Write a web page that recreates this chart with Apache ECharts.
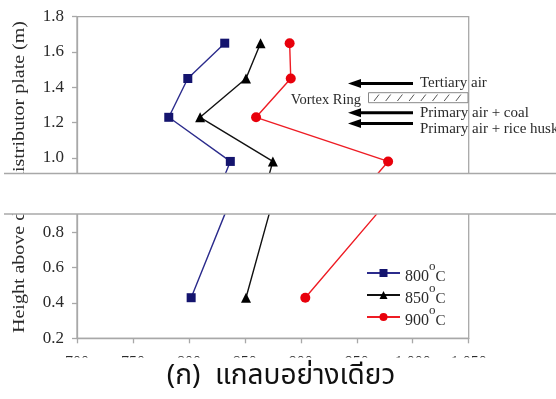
<!DOCTYPE html>
<html>
<head>
<meta charset="utf-8">
<script src="https://cdn.jsdelivr.net/npm/echarts@6/dist/echarts.min.js"></script>
<style>
  html, body { margin: 0; padding: 0; background: #fff; }
  #chart { width: 556px; height: 399px; }
</style>
</head>
<body>
<div id="chart"></div>
<script>
// Bed temperature profile against height (rice husk only)
const heights = [1.65, 1.45, 1.23, 0.98, 0.43];
const temp800 = [832, 799, 782, 837, 802];
const temp850 = [864, 851, 810, 875, 851];
const temp900 = [890, 891, 860, 978, 904];
const seriesNames = ['800', '850', '900'];
const xTicks = [700, 750, 800, 850, 900, 950, 1000, 1050];

const SERIF = '"Liberation Serif", "Times New Roman", serif';
const FRAME = '#a8a8a8';
const TXT = '#2a2a2a';

const styles = [
  { color: '#2b2b8c', symbol: 'rect', symbolSize: 9, markerColor: '#14146e' },
  { color: '#111111', symbol: 'triangle', symbolSize: 10, markerColor: '#000000' },
  { color: '#ee1c24', symbol: 'circle', symbolSize: 10, markerColor: '#e8000b' }
];
const values = [temp800, temp850, temp900];

function pairs(arr) {
  return arr.map((t, i) => [t, heights[i]]);
}

const series = [];
[0, 1].forEach(g => {
  values.forEach((vals, k) => {
    series.push({
      name: seriesNames[k],
      type: 'line',
      xAxisIndex: g,
      yAxisIndex: g,
      data: pairs(vals),
      clip: true,
      symbol: styles[k].symbol,
      symbolSize: styles[k].symbolSize,
      lineStyle: { color: styles[k].color, width: 1.4 },
      itemStyle: { color: styles[k].markerColor },
      emphasis: { disabled: true },
      animation: false
    });
  });
});

const xMin = xTicks[0], xMax = xTicks[xTicks.length - 1];

function xAxis(gridIndex, visible) {
  return {
    type: 'value', gridIndex, min: xMin, max: xMax, interval: 50,
    axisLine: { show: visible, onZero: false, lineStyle: { color: FRAME, width: 1.3 } },
    axisTick: { show: visible, length: 5, lineStyle: { color: FRAME, width: 1.3 } },
    axisLabel: { show: visible, margin: 16, color: TXT, fontFamily: SERIF, fontSize: 16 },
    splitLine: { show: false }
  };
}
function yAxis(gridIndex, min, max) {
  return {
    type: 'value', gridIndex, min, max, interval: 0.2,
    axisLine: { show: true, onZero: false, lineStyle: { color: FRAME, width: 1.3 } },
    axisTick: { show: true, length: 5, lineStyle: { color: FRAME, width: 1.3 } },
    axisLabel: { margin: 13, color: TXT, fontFamily: SERIF, fontSize: 17,
                 formatter: v => v.toFixed(1) },
    splitLine: { show: false }
  };
}

// hatched strip for the vortex ring
const hatch = [];
for (let x = 374; x < 466; x += 11.7) {
  hatch.push({ type: 'line', shape: { x1: x, y1: 101, x2: x + 5, y2: 94.5 },
               style: { stroke: '#555', lineWidth: 1 } });
}

function arrow(y, x0, x1) {
  return {
    type: 'group', children: [
      { type: 'line', shape: { x1: x0 + 10, y1: y, x2: x1, y2: y },
        style: { stroke: '#000', lineWidth: 3 } },
      { type: 'polygon', shape: { points: [[x0, y], [x0 + 13, y - 4.5], [x0 + 13, y + 4.5]] },
        style: { fill: '#000' } }
    ]
  };
}
function label(text, x, y, size, align) {
  return { type: 'text', x, y, style: { text, fill: TXT, font: size + 'px ' + SERIF,
           textAlign: align || 'left', textVerticalAlign: 'middle' } };
}

// degree label: number, raised small "o", then C (padding shifts each token's text)
const legendRich = {
  n: { fontFamily: SERIF, fontSize: 16, lineHeight: 14, color: TXT, padding: [8, 0, 0, 0] },
  c: { fontFamily: SERIF, fontSize: 15, lineHeight: 14, color: TXT, padding: [8, 0, 0, 0] },
  s: { fontFamily: SERIF, fontSize: 13, lineHeight: 10, color: TXT, padding: [0, 0, 12, 0] }
};

const option = {
  backgroundColor: '#fff',
  animation: false,
  grid: [
    { left: 77, top: 16.7, width: 391.7, height: 176.5, show: true, borderColor: FRAME, borderWidth: 1.3 },
    { left: 77, top: 197.1, width: 391.7, height: 141.2, show: true, borderColor: FRAME, borderWidth: 1.3 }
  ],
  xAxis: [xAxis(0, false), xAxis(1, true)],
  yAxis: [yAxis(0, 0.8, 1.8), yAxis(1, 0.2, 1.0)],
  legend: {
    orient: 'vertical', left: 361, top: 255.5, itemWidth: 33, itemHeight: 10, itemGap: -3,
    data: seriesNames,
    formatter: n => '{n|' + n + '}{s|o}{c|C}',
    textStyle: { rich: legendRich },
    selectedMode: false
  },
  series,
  graphic: [
    // white break across the height axis
    { type: 'rect', z: 100, shape: { x: 4, y: 173.5, width: 552, height: 40.5 }, style: { fill: '#fff' } },
    { type: 'line', z: 101, shape: { x1: 4, y1: 173.5, x2: 556, y2: 173.5 }, style: { stroke: FRAME, lineWidth: 1.3 } },
    { type: 'line', z: 101, shape: { x1: 4, y1: 214, x2: 556, y2: 214 }, style: { stroke: FRAME, lineWidth: 1.3 } },
    // axis title, split by the break
    { type: 'text', z: 90, x: 20, y: 333, rotation: Math.PI / 2, scaleX: 1.25,
      style: { text: 'Height above d', fill: TXT, font: '16px ' + SERIF,
               textAlign: 'left', textVerticalAlign: 'middle' } },
    { type: 'text', z: 90, x: 20, y: 21, rotation: Math.PI / 2, scaleX: 1.25,
      style: { text: 'distributor plate (m)', fill: TXT, font: '16px ' + SERIF,
               textAlign: 'right', textVerticalAlign: 'middle' } },
    // hide lower part of the tick labels and caption area
    { type: 'rect', z: 100, shape: { x: 0, y: 357.5, width: 556, height: 42 }, style: { fill: '#fff' } },
    { type: 'text', z: 102, x: 281, y: 378,
      style: { text: '(ก)  แกลบอย่างเดียว', fill: '#111',
               font: '28px Tahoma, "Noto Sans Thai", "Noto Sans", sans-serif',
               textAlign: 'center', textVerticalAlign: 'middle' } },
    // air inlets
    { type: 'group', z: 50, children: [
      arrow(83.5, 348, 413),
      arrow(112.7, 348, 413),
      arrow(123.5, 348, 413),
      label('Tertiary air', 420, 83.5, 15),
      label('Primary air + coal', 420, 112.7, 15),
      label('Primary air + rice husk', 420, 129.5, 15),
      label('Vortex Ring', 361, 100.5, 14.5, 'right'),
      { type: 'rect', shape: { x: 368.5, y: 92.7, width: 99.5, height: 10 },
        style: { fill: '#fff', stroke: '#888', lineWidth: 1 } }
    ].concat(hatch) }
  ]
};

const chart = echarts.init(document.getElementById('chart'), null, { renderer: 'canvas' });
chart.setOption(option);
</script>
</body>
</html>
